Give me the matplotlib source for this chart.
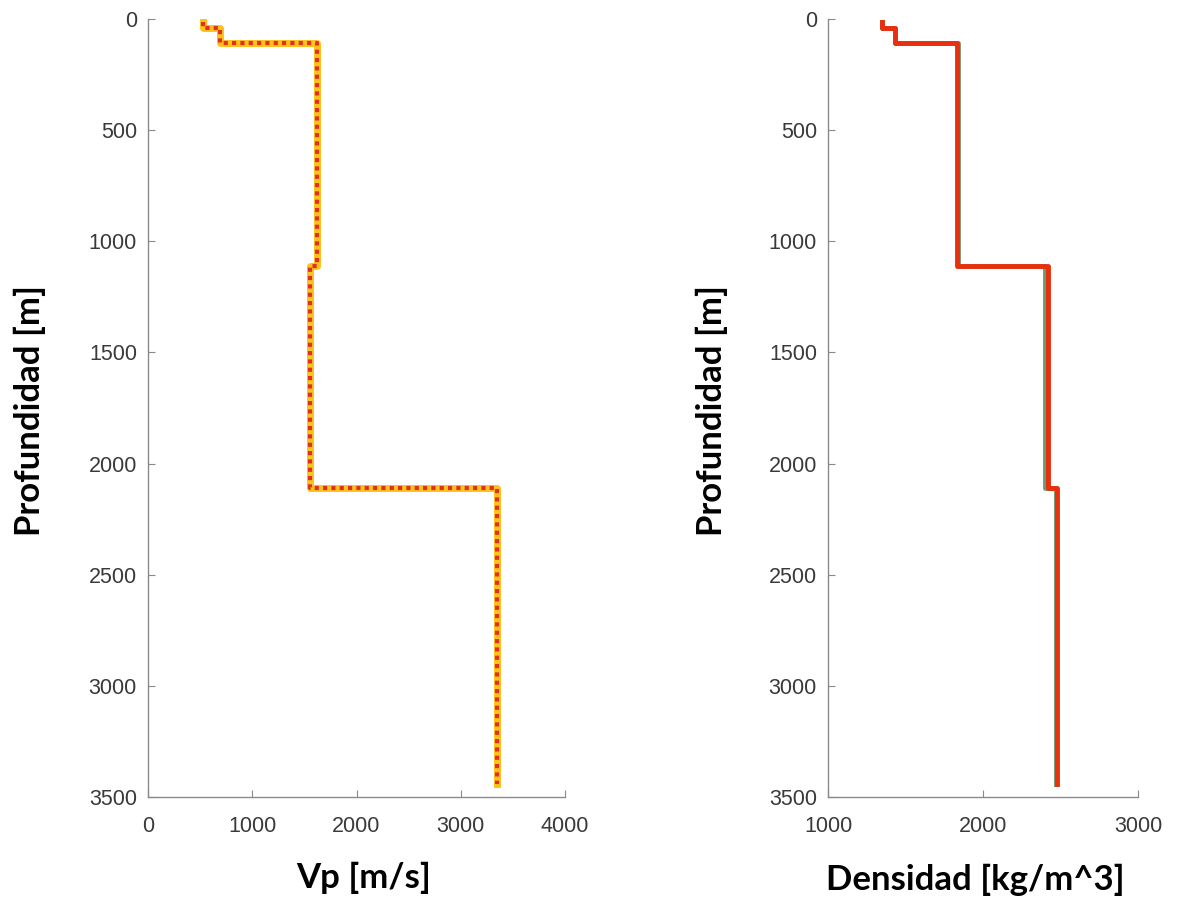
import numpy as np
import matplotlib
matplotlib.use("Agg")
import matplotlib.pyplot as plt

# ---- data (layered models) ----
layer_tops = [15, 40, 110, 1110, 2110]   # m
model_bottom = 3440                        # m

vp_true = [545, 705, 1620, 1555, 3350]    # m/s (blue)
vp_est_a = [530, 690, 1620, 1555, 3350]   # m/s (yellow)
vp_est_b = [530, 690, 1620, 1555, 3350]   # m/s (red dotted)

rho_true = [1350, 1430, 1840, 2400, 2470]  # kg/m^3 (green)
rho_est = [1350, 1430, 1830, 2420, 2480]   # kg/m^3 (red)

vp_xticks = [0, 1000, 2000, 3000, 4000]
rho_xticks = [1000, 2000, 3000]
depth_ticks = [0, 500, 1000, 1500, 2000, 2500, 3000, 3500]


def step(values, tops, bottom):
    bounds = list(tops) + [bottom]
    z = np.repeat(bounds, 2)[1:-1]
    v = np.repeat(values, 2)
    return v, z


plt.rcParams['font.family'] = ['Liberation Sans', 'DejaVu Sans']
fig = plt.figure(figsize=(11.78, 9.05), dpi=100)

W, H = 1178, 905
def ax_rect(x0, x1, y0, y1):
    return [x0 / W, 1 - y1 / H, (x1 - x0) / W, (y1 - y0) / H]

ax1 = fig.add_axes(ax_rect(148, 565, 19, 797))
ax2 = fig.add_axes(ax_rect(828, 1138, 19, 797))

x, z = step(vp_true, layer_tops, model_bottom)
ax1.plot(x, z, color='#2b2bb0', lw=3.0, zorder=2)
x, z = step(vp_est_a, layer_tops, model_bottom)
ax1.plot(x, z, color='#ffc21a', lw=5.0, zorder=3)
x, z = step(vp_est_b, layer_tops, model_bottom)
ax1.plot(x, z, color='#e0301e', lw=3.0, ls=(0, (1, 1)), zorder=4)

x, z = step(rho_true, layer_tops, model_bottom)
ax2.plot(x, z, color='#6f9a6f', lw=3.5, zorder=2)
x, z = step(rho_est, layer_tops, model_bottom)
ax2.plot(x, z, color='#e8300f', lw=3.5, zorder=3)

for ax, xl, xt in [(ax1, (0, 4000), vp_xticks), (ax2, (1000, 3000), rho_xticks)]:
    ax.set_xlim(*xl)
    ax.set_ylim(3500, 0)
    ax.set_xticks(xt)
    ax.set_yticks(depth_ticks)
    for s in ['top', 'right']:
        ax.spines[s].set_visible(False)
    for s in ['left', 'bottom']:
        ax.spines[s].set_color('#8a8a8a')
        ax.spines[s].set_linewidth(1.0)
    ax.tick_params(direction='in', length=5, width=0.8, color='#8a8a8a',
                   labelsize=15.5, labelcolor='#3a3a3a')
    ax.tick_params(axis='y', pad=8)
    ax.tick_params(axis='x', pad=14)

lab = dict(fontsize=25, fontweight='bold', family=['Lato', 'DejaVu Sans'], color='black')
fig.text(30 / W, 1 - 410 / H, 'Profundidad [m]', rotation=90, ha='center', va='center', **lab)
fig.text(712 / W, 1 - 410 / H, 'Profundidad [m]', rotation=90, ha='center', va='center', **lab)
fig.text(364 / W, 1 - 878 / H, 'Vp [m/s]', ha='center', va='center', **lab)
fig.text(975 / W, 1 - 880 / H, 'Densidad [kg/m^3]', ha='center', va='center', **lab)

fig.savefig('out.png', dpi=100)
